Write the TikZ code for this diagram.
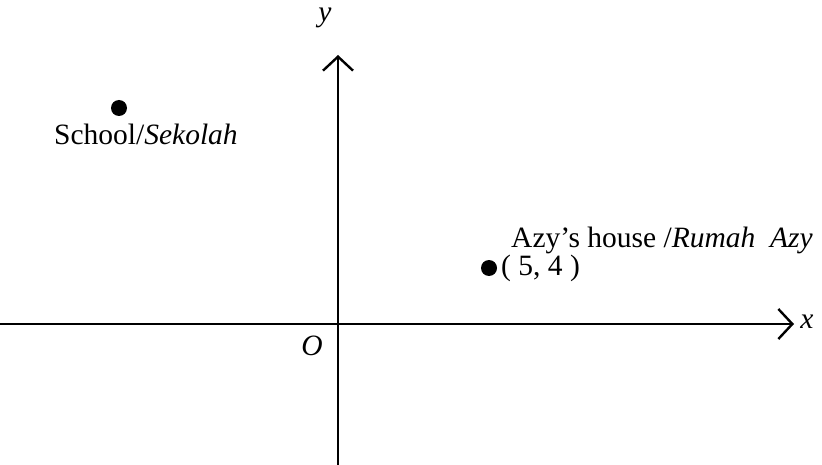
\documentclass[tikz,border=0pt]{standalone}
\usepackage{fontspec}
\setmainfont{Liberation Serif}
\usetikzlibrary{arrows.meta}
\begin{document}
\begin{tikzpicture}[x=1pt,y=-1pt,
  axis/.style={line width=2.4pt,-{Straight Barb[length=14pt,width=30pt,line width=2.4pt]}},
  lbl/.style={font=\fontsize{29.5}{34}\selectfont,inner sep=0pt},
  it/.style={font=\fontsize{29.5}{34}\selectfont\itshape,inner sep=0pt},
  pt/.style={circle,fill=black,minimum size=16pt,inner sep=0pt}]
\useasboundingbox (0,0) rectangle (822,465);
\coordinate (xl) at (0,324);
\coordinate (xr) at (794,324);
\coordinate (yb) at (338,465);
\coordinate (yt) at (338,55);
\draw[axis] (xl) -- (xr);
\draw[axis] (yb) -- (yt);
\node[it] (xlab) at (807,322) {x};
\node[it] (ylab) at (325,18) {y};
\node[it] (o) at (312,346) {O};
\node[pt] (school) at (119,108) {};
\node[lbl,anchor=west] (schooltext) at (54,134) {School/\textit{Sekolah}};
\node[pt] (azy) at (489,268) {};
\node[lbl,anchor=west] (azytext) at (511,240) {Azy’s house /\textit{Rumah\ \ Azy}};
\node[lbl,anchor=west] (coord) at (501,268) {( 5, 4 )};
\end{tikzpicture}
\end{document}
